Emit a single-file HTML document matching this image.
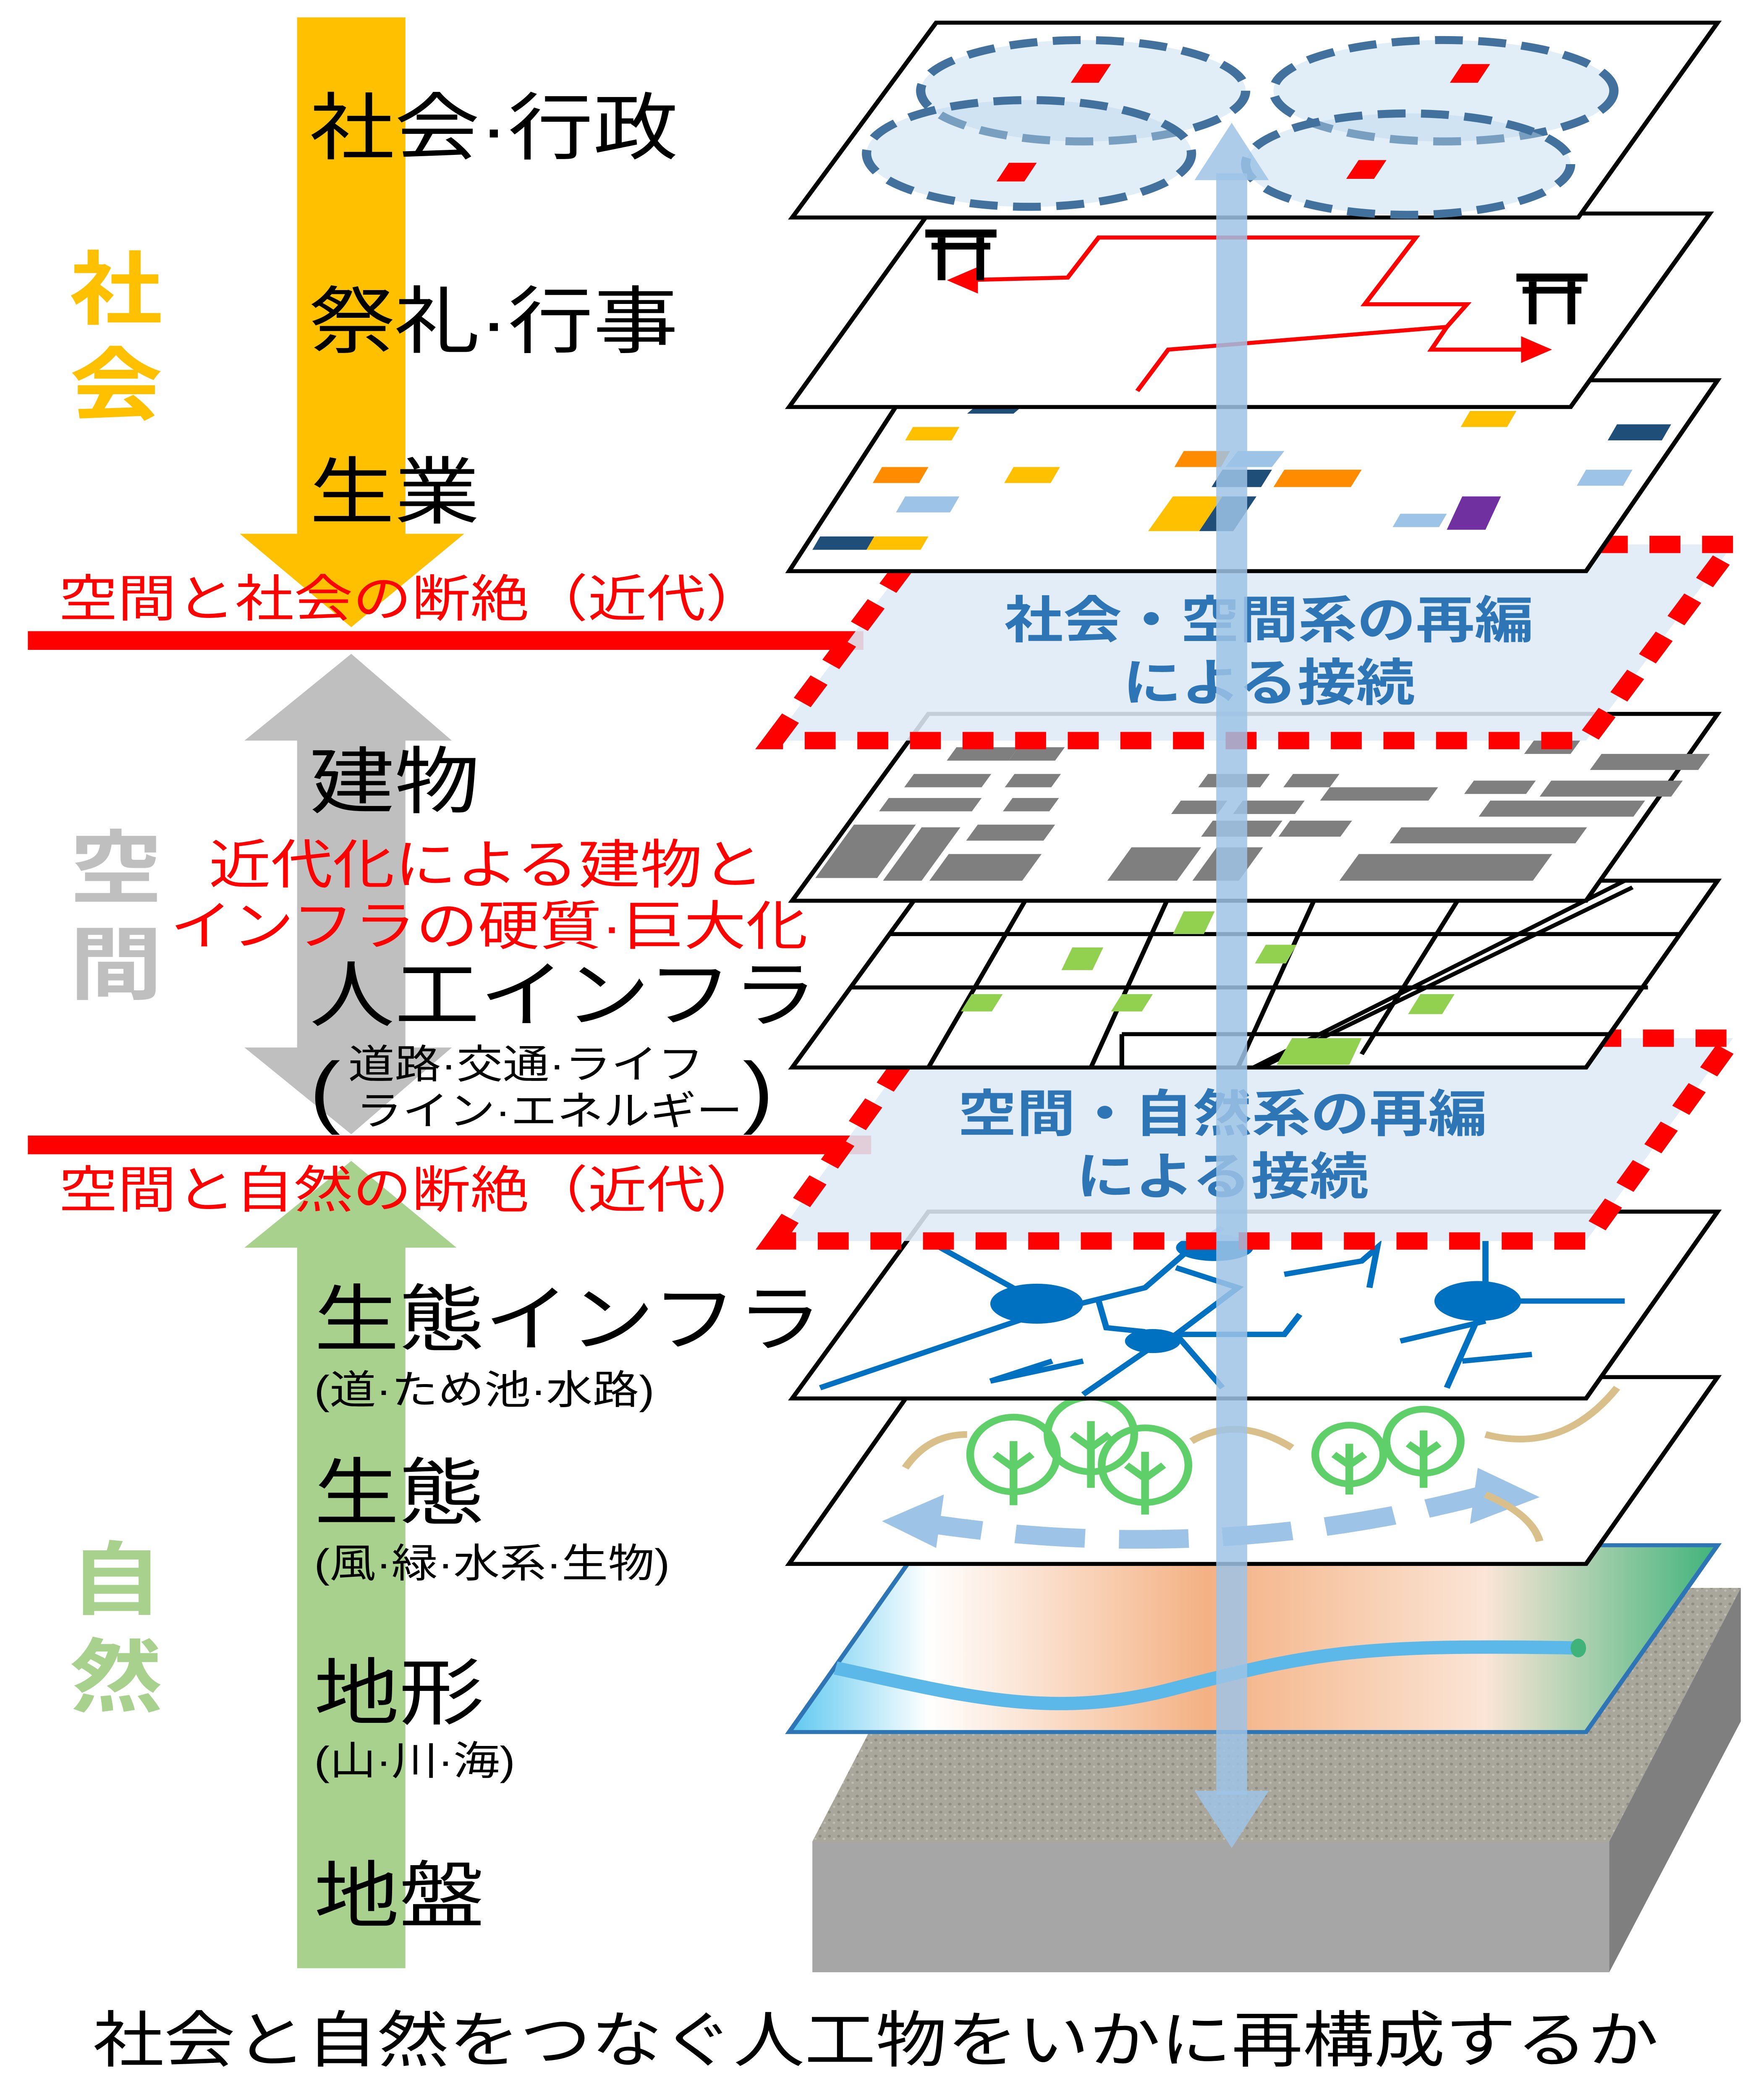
<!DOCTYPE html>
<html><head><meta charset="utf-8"><style>
html,body{margin:0;padding:0;background:#fff;overflow:hidden}
svg{display:block;position:absolute;left:0;top:0;width:100vw;height:100vh}
text{font-family:"Liberation Sans","Noto Sans CJK JP",sans-serif}
</style></head><body>
<svg viewBox="0 0 1140 1573" preserveAspectRatio="none" xmlns="http://www.w3.org/2000/svg">
<defs>
<linearGradient id="terr" x1="0" y1="0" x2="1" y2="0">
<stop offset="0" stop-color="#5ec8f0"/><stop offset="0.15" stop-color="#ffffff"/><stop offset="0.45" stop-color="#f4b183"/><stop offset="0.75" stop-color="#fbe5d6"/><stop offset="1" stop-color="#3fb37a"/>
</linearGradient>
<pattern id="grain" width="6" height="6" patternUnits="userSpaceOnUse"><rect width="6" height="6" fill="#a9a69c"/><circle cx="2" cy="2" r="1" fill="#8f8c82"/><circle cx="5" cy="4" r="0.8" fill="#c0bdb3"/></pattern>
</defs>
<rect width="1140" height="1573" fill="#fff"/>

<!-- left arrows -->
<polygon points="192,13 262,13 262,400 300,400 227,470 155,400 192,400" fill="#FFC000"/>
<polygon points="227,490 292,555 262,555 262,785 292,785 227,850 158,785 192,785 192,555 158,555" fill="#BFBFBF"/>
<polygon points="227,870 295,935 262,935 262,1475 192,1475 192,935 158,935" fill="#A9D18E"/>

<!-- red lines -->
<rect x="18" y="473" width="540" height="14" fill="#FF0000"/>
<rect x="18" y="851" width="545" height="14" fill="#FF0000"/>

<!-- side labels -->
<g font-weight="bold" font-size="60">
<text x="45" y="238" fill="#FFC000">社</text><text x="45" y="310" fill="#FFC000">会</text>
<text x="45" y="672" fill="#BFBFBF">空</text><text x="45" y="744" fill="#BFBFBF">間</text>
<text x="45" y="1205" fill="#A9D18E">自</text><text x="45" y="1278" fill="#A9D18E">然</text>
</g>
<g font-size="55" fill="#000">
<text x="200" y="115">社会·行政</text>
<text x="200" y="260">祭礼·行事</text>
<text x="200" y="388">生業</text>
<text x="200" y="605">建物</text>
<text x="200" y="765">人工インフラ</text>
<text x="203" y="1008">生態インフラ</text>
<text x="203" y="1138">生態</text>
<text x="203" y="1288">地形</text>
<text x="203" y="1440">地盤</text>
</g>
<g font-size="30" fill="#000">
<text x="200" y="838" font-size="60">(</text>
<text x="225" y="808">道路·交通·ライフ</text>
<text x="230" y="843">ライン·エネルギー</text>
<text x="480" y="838" font-size="60">)</text>
<text x="203" y="1052">(道·ため池·水路)</text>
<text x="203" y="1182">(風·緑·水系·生物)</text>
<text x="203" y="1330">(山·川·海)</text>
</g>
<g font-size="38" fill="#FF0000">
<text x="38" y="462">空間と社会の断絶（近代）</text>
<text x="135" y="662" font-size="40">近代化による建物と</text>
<text x="110" y="708" font-size="40">インフラの硬質·巨大化</text>
<text x="38" y="905">空間と自然の断絶（近代）</text>
</g>
<text x="60" y="1545" font-size="46" fill="#000">社会と自然をつなぐ人工物をいかに再構成するか</text>

<!-- ground block -->
<polygon points="525,1380 610,1190 1125,1190 1040,1380" fill="url(#grain)"/>
<rect x="525" y="1380" width="515" height="98" fill="#a6a6a6"/>
<polygon points="1040,1380 1125,1190 1125,1290 1040,1478" fill="#7f7f7f"/>
<!-- terrain -->
<polygon points="510,1298 595,1158 1110,1158 1025,1298" fill="url(#terr)" stroke="#2e75b6" stroke-width="3"/>
<path d="M540,1250 C620,1270 680,1290 760,1265 C850,1238 880,1232 1020,1235" fill="none" stroke="#5bb8e8" stroke-width="10"/>
<ellipse cx="1020" cy="1235" rx="5" ry="7" fill="#3fb37a"/>

<!-- layer 7: ecology -->
<polygon points="510,1172 595,1032 1110,1032 1025,1172" fill="#fff" stroke="#000" stroke-width="3"/>
<path d="M590,1140 Q780,1175 960,1120" fill="none" stroke="#9DC3E6" stroke-width="14" stroke-dasharray="45,22"/>
<polygon points="570,1140 610,1120 605,1160" fill="#9DC3E6"/>
<polygon points="995,1122 955,1100 950,1142" fill="#9DC3E6"/>
<g fill="none" stroke="#d9c08a" stroke-width="5">
<path d="M585,1100 Q600,1075 625,1075"/><path d="M770,1080 Q800,1060 835,1085"/><path d="M960,1075 Q1010,1090 1045,1040"/><path d="M960,1120 Q990,1135 995,1155"/>
</g>
<g fill="none" stroke="#5fcf6a" stroke-width="5">
<circle cx="655" cy="1090" r="28"/><path d="M655,1080 V1128 M655,1100 l-12,-10 M655,1100 l12,-10"/>
<circle cx="705" cy="1075" r="28"/><path d="M705,1065 V1115 M705,1085 l-12,-10 M705,1085 l12,-10"/>
<circle cx="740" cy="1098" r="28"/><path d="M740,1088 V1135 M740,1108 l-12,-10 M740,1108 l12,-10"/>
<circle cx="872" cy="1090" r="22"/><path d="M872,1082 V1120 M872,1098 l-10,-8 M872,1098 l10,-8"/>
<circle cx="920" cy="1080" r="24"/><path d="M920,1072 V1115 M920,1090 l-10,-8 M920,1090 l10,-8"/>
</g>

<!-- layer 6: eco infra -->
<polygon points="512,1048 600,908 1110,908 1025,1048" fill="#fff" stroke="#000" stroke-width="3"/>
<g fill="none" stroke="#0070C0" stroke-width="4">
<path d="M600,930 L670,975 M530,1040 L670,985 L740,965 L770,935 L790,920 M760,950 L800,965 L760,1000 L790,1040 M750,1005 L700,1045 M640,1035 L700,1020 M760,1000 L830,1000 L840,985 M830,955 L880,945 L890,935 L885,965 M960,930 L960,975 L1050,975 M960,975 L935,1040 M905,1005 L960,990 M945,1020 L990,1015 M680,1020 L640,1035 M710,975 L715,995 L740,998"/>
</g>
<g fill="#0070C0">
<ellipse cx="670" cy="977" rx="30" ry="15"/><ellipse cx="955" cy="975" rx="28" ry="15"/><ellipse cx="745" cy="1005" rx="18" ry="9"/><ellipse cx="785" cy="935" rx="25" ry="10"/>
</g>

<!-- blue dashed 2 -->
<polygon points="500,930 595,778 1120,778 1025,930" fill="#DEEBF7" fill-opacity="0.88" stroke="#FF0000" stroke-width="13" stroke-dasharray="20,14"/>
<g font-size="38" font-weight="bold" fill="#2E75B6" text-anchor="middle">
<text x="790" y="848">空間・自然系の再編</text><text x="790" y="895">による接続</text>
</g>

<!-- layer 5: infra -->
<polygon points="512,800 600,660 1110,660 1025,800" fill="#fff" stroke="#000" stroke-width="3"/>
<g stroke="#000" stroke-width="3" fill="none">
<path d="M575,700 L1085,700 M550,740 L1065,740 M725,775 L1040,775 M670,660 L600,800 M760,660 L705,800 M855,660 L800,800 M950,660 L880,790 M725,775 L725,800"/>
<path d="M1050,660 L810,800 M1055,665 L815,800"/>
</g>
<g fill="#92D050">
<polygon points="765,683 785,683 778,700 758,700"/><polygon points="693,710 713,710 706,727 686,727"/><polygon points="818,708 838,708 831,722 811,722"/><polygon points="628,745 648,745 641,758 621,758"/><polygon points="725,745 745,745 738,758 718,758"/><polygon points="918,745 940,745 932,760 910,760"/><polygon points="835,778 880,778 872,798 825,798"/>
</g>

<!-- layer 4: buildings -->
<polygon points="512,675 600,535 1110,535 1025,675" fill="#fff" stroke="#000" stroke-width="3"/>
<g fill="#7f7f7f" transform="translate(0,605) skewX(-32) translate(0,-605)">
<rect x="590" y="560" width="40" height="10"/><rect x="630" y="560" width="30" height="10"/><rect x="575" y="580" width="50" height="10"/><rect x="640" y="580" width="30" height="10"/><rect x="570" y="598" width="60" height="10"/><rect x="650" y="598" width="30" height="10"/><rect x="560" y="618" width="40" height="40"/><rect x="605" y="620" width="25" height="40"/><rect x="640" y="618" width="50" height="12"/><rect x="635" y="640" width="60" height="20"/>
<rect x="765" y="580" width="40" height="10"/><rect x="820" y="580" width="30" height="10"/><rect x="760" y="600" width="30" height="10"/><rect x="800" y="600" width="40" height="10"/><rect x="850" y="590" width="70" height="10"/><rect x="790" y="615" width="45" height="12"/><rect x="840" y="615" width="40" height="12"/><rect x="750" y="635" width="45" height="25"/><rect x="805" y="635" width="30" height="25"/>
<rect x="960" y="555" width="30" height="10"/><rect x="1010" y="565" width="70" height="12"/><rect x="990" y="585" width="85" height="12"/><rect x="960" y="600" width="100" height="12"/><rect x="915" y="620" width="120" height="12"/><rect x="900" y="640" width="125" height="20"/><rect x="940" y="585" width="40" height="10"/>
</g>

<!-- blue dashed 1 -->
<polygon points="500,555 595,408 1120,408 1025,555" fill="#DEEBF7" fill-opacity="0.88" stroke="#FF0000" stroke-width="13" stroke-dasharray="20,14"/>
<g font-size="38" font-weight="bold" fill="#2E75B6" text-anchor="middle">
<text x="820" y="478">社会・空間系の再編</text><text x="820" y="525">による接続</text>
</g>

<!-- layer 3: livelihood -->
<polygon points="510,428 590,285 1110,285 1025,428" fill="#fff" stroke="#000" stroke-width="3"/>
<g>
<polygon points="590,320 620,320 615,330 585,330" fill="#FFC000"/><polygon points="630,305 660,305 655,310 625,310" fill="#1F4E79"/>
<polygon points="570,350 600,350 594,362 564,362" fill="#FF8C00"/><polygon points="655,350 685,350 679,362 649,362" fill="#FFC000"/>
<polygon points="585,372 620,372 614,384 579,384" fill="#9DC3E6"/><polygon points="530,402 565,402 560,412 525,412" fill="#1F4E79"/><polygon points="565,402 600,402 595,412 560,412" fill="#FFC000"/>
<polygon points="765,338 795,338 789,350 759,350" fill="#FF8C00"/><polygon points="800,338 830,338 822,350 792,350" fill="#9DC3E6"/>
<polygon points="790,352 822,352 815,365 783,365" fill="#1F4E79"/><polygon points="830,352 880,352 873,365 823,365" fill="#FF8C00"/>
<polygon points="758,372 790,372 775,398 742,398" fill="#FFC000"/><polygon points="790,372 812,372 797,398 775,398" fill="#1F4E79"/>
<polygon points="950,308 980,308 974,320 944,320" fill="#FFC000"/><polygon points="1045,318 1080,318 1074,330 1039,330" fill="#1F4E79"/>
<polygon points="1025,352 1055,352 1049,364 1019,364" fill="#9DC3E6"/><polygon points="945,372 970,372 960,397 935,397" fill="#7030A0"/><polygon points="905,385 935,385 930,395 900,395" fill="#9DC3E6"/>
</g>

<!-- layer 2: festivals -->
<polygon points="510,305 600,160 1105,160 1015,305" fill="#fff" stroke="#000" stroke-width="3"/>
<g fill="none" stroke="#FF0000" stroke-width="3">
<path d="M620,210 L690,208 L710,178 L915,178 L882,228 L948,228 L935,245 L755,262 L735,293"/>
<path d="M935,245 L925,262 L990,262"/>
</g>
<polygon points="612,210 632,200 632,220" fill="#FF0000"/>
<polygon points="1003,262 983,252 983,272" fill="#FF0000"/>
<g fill="#000">
<rect x="598" y="172" width="46" height="6"/><rect x="602" y="182" width="38" height="5"/><rect x="606" y="178" width="5" height="32"/><rect x="631" y="178" width="5" height="32"/>
<rect x="980" y="205" width="46" height="6"/><rect x="984" y="215" width="38" height="5"/><rect x="988" y="211" width="5" height="32"/><rect x="1013" y="211" width="5" height="32"/>
</g>

<!-- layer 1: administration -->
<polygon points="512,163 605,17 1110,17 1020,163" fill="#fff" stroke="#000" stroke-width="3"/>
<g fill="#BDD7EE" fill-opacity="0.45" stroke="#41719C" stroke-width="6" stroke-dasharray="18,10">
<ellipse cx="700" cy="68" rx="105" ry="38"/><ellipse cx="933" cy="68" rx="110" ry="38"/><ellipse cx="665" cy="115" rx="105" ry="40"/><ellipse cx="910" cy="123" rx="105" ry="38"/>
</g>
<g fill="#FF0000">
<polygon points="700,48 718,48 710,62 692,62"/><polygon points="945,48 963,48 955,62 937,62"/><polygon points="652,122 670,122 662,136 644,136"/><polygon points="878,120 896,120 888,134 870,134"/>
</g>

<!-- vertical blue double arrow -->
<g fill="#9DC3E6" fill-opacity="0.85">
<rect x="786" y="130" width="20" height="1215"/>
<polygon points="796,92 820,135 772,135"/>
<polygon points="796,1385 820,1342 772,1342"/>
</g>
</svg>
</body></html>
